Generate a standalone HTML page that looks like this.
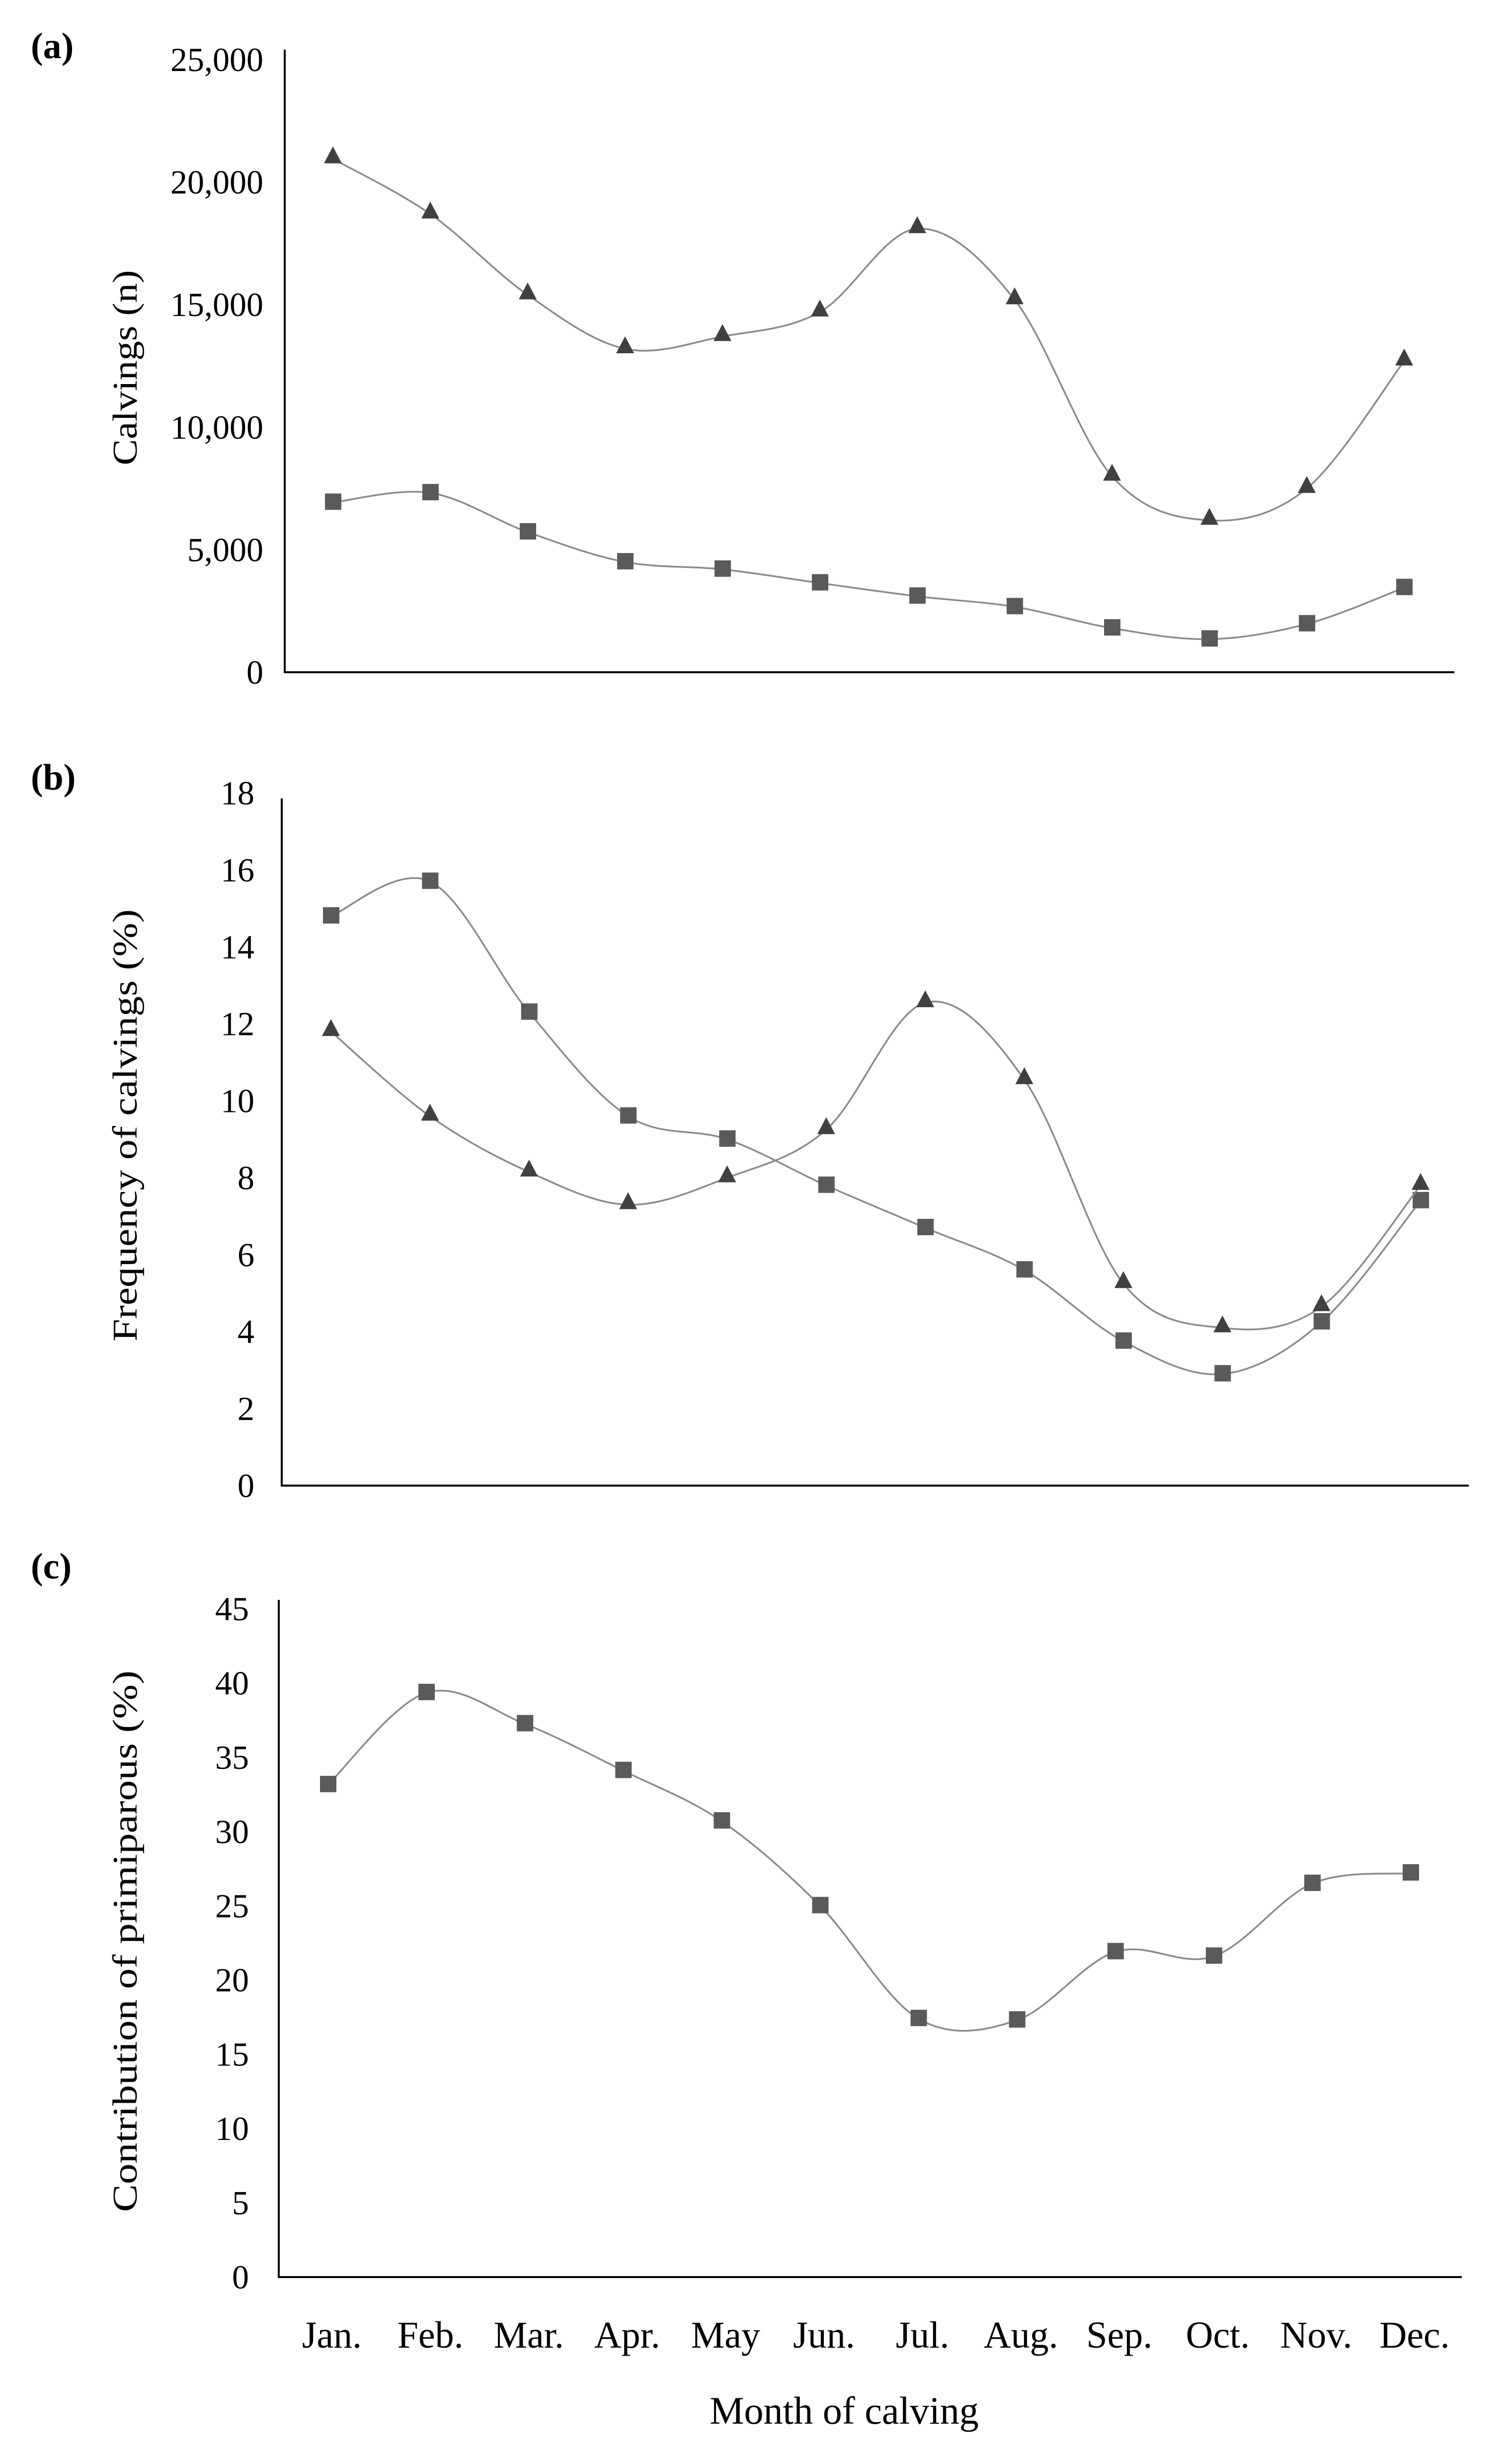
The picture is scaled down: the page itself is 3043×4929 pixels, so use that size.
<!DOCTYPE html>
<html><head><meta charset="utf-8"><style>
html,body{margin:0;padding:0;background:#fff}
svg{display:block}
text{font-family:"Liberation Serif",serif;fill:#000}
</style></head><body>
<svg id="chart" width="3043" height="4929" viewBox="0 0 3043 4929" xmlns="http://www.w3.org/2000/svg"></svg>
<script>
const months = ["Jan.","Feb.","Mar.","Apr.","May","Jun.","Jul.","Aug.","Sep.","Oct.","Nov.","Dec."];
const calvingsTriangle = [20950,18700,15400,13200,13700,14700,18100,15200,8000,6200,7500,12700];
const calvingsSquare = [6930,7320,5720,4500,4200,3640,3100,2670,1800,1350,1970,3450];
const freqSquare = [14.8,15.7,12.3,9.6,9.0,7.8,6.7,5.6,3.75,2.9,4.25,7.4];
const freqTriangle = [11.8,9.6,8.15,7.3,8.0,9.25,12.55,10.55,5.25,4.1,4.65,7.8];
const primiparous = [33.15,39.35,37.25,34.1,30.7,25.0,17.4,17.3,21.9,21.6,26.5,27.2];
const ticksA = [0,5000,10000,15000,20000,25000];
const ticksB = [0,2,4,6,8,10,12,14,16,18];
const ticksC = [0,5,10,15,20,25,30,35,40,45];

const NS = "http://www.w3.org/2000/svg";
const svg = document.getElementById("chart");
function mk(tag, attrs, parent){const e=document.createElementNS(NS,tag);for(const k in attrs)e.setAttribute(k,attrs[k]);(parent||svg).appendChild(e);return e;}
function fmt(v){return v.toLocaleString("en-US");}

function smoothPath(pts){
  let d="M"+pts[0][0]+","+pts[0][1];
  for(let i=0;i<pts.length-1;i++){
    const p0=pts[Math.max(0,i-1)],p1=pts[i],p2=pts[i+1],p3=pts[Math.min(pts.length-1,i+2)];
    const c1=[p1[0]+(p2[0]-p0[0])/6,p1[1]+(p2[1]-p0[1])/6];
    const c2=[p2[0]-(p3[0]-p1[0])/6,p2[1]-(p3[1]-p1[1])/6];
    d+=" C"+c1[0]+","+c1[1]+" "+c2[0]+","+c2[1]+" "+p2[0]+","+p2[1];
  }
  return d;
}

function panel(cfg){
  const g=mk("g",{});
  
  
  const x=i=>cfg.x0+i*(cfg.x1-cfg.x0)/11;
  const y=v=>cfg.yZero-(v/cfg.max)*(cfg.yZero-cfg.yMax);
  const ax=mk("path",{d:`M${cfg.axisX},${cfg.axisTop} L${cfg.axisX},${cfg.yZero} L${cfg.axisRight},${cfg.yZero}`,fill:"none",stroke:"#000","stroke-width":4},g);
  
  
  cfg.ticks.forEach(t=>{
    const tx=mk("text",{x:cfg.labelRight,y:y(t)+23,"text-anchor":"end","font-size":68},g);
    tx.textContent=cfg.comma?fmt(t):String(t);
    
    
  });
  const tt=mk("text",{x:0,y:0,"text-anchor":"middle","font-size":70,textLength:cfg.titleLen,lengthAdjust:"spacingAndGlyphs",transform:`translate(275,${cfg.titleY}) rotate(-90)`},g);
  tt.textContent=cfg.title;
  
  
  const pl=mk("text",{x:62,y:cfg.tagY+24,"font-size":74,"font-weight":"bold"},g);
  pl.textContent=cfg.tag;
  
  
  cfg.series.forEach(s=>{
    const pts=s.data.map((v,i)=>[x(i),y(v)]);
    const ln=mk("path",{d:smoothPath(pts),fill:"none",stroke:"#8a8a8a","stroke-width":3.5},g);
    
    
    pts.forEach(p=>{
      let m;
      if(s.marker==="tri"){
        m=mk("polygon",{points:`${p[0]},${p[1]-25} ${p[0]-18},${p[1]+9} ${p[0]+18},${p[1]+9}`,fill:"#404040"},g);
      }else{
        m=mk("rect",{x:p[0]-16,y:p[1]-18,width:33,height:33,fill:"#5a5a5a"},g);
      }
      
      
    });
  });
  return x;
}

panel({name:"panel-a-calvings",tag:"(a)",tagY:93,axisX:573,axisTop:100,axisRight:2927,yZero:1353,yMax:120,max:25000,x0:670,x1:2826,
  ticks:ticksA,comma:true,labelRight:530,title:"Calvings (n)",titleY:740,titleLen:393,
  series:[{name:"all-cows",data:calvingsTriangle,marker:"tri"},{name:"primiparous",data:calvingsSquare,marker:"sq"}]});
panel({name:"panel-b-frequency",tag:"(b)",tagY:1565,axisX:567,axisTop:1607,axisRight:2956,yZero:2990,yMax:1596,max:18,x0:666,x1:2859,
  ticks:ticksB,comma:false,labelRight:512,title:"Frequency of calvings (%)",titleY:2265,titleLen:870,
  series:[{name:"primiparous-freq",data:freqSquare,marker:"sq"},{name:"multiparous-freq",data:freqTriangle,marker:"tri"}]});
const xc=panel({name:"panel-c-contribution",tag:"(c)",tagY:3153,axisX:561,axisTop:3220,axisRight:2942,yZero:4583,yMax:3238,max:45,x0:660,x1:2839,
  ticks:ticksC,comma:false,labelRight:501,title:"Contribution of primiparous (%)",titleY:3907,titleLen:1090,
  series:[{name:"contribution",data:primiparous,marker:"sq"}]});

months.forEach((m,i)=>{
  const t=mk("text",{x:xc(i)+8,y:4725,"text-anchor":"middle","font-size":76});
  t.textContent=m;
  
  
});
const xt=mk("text",{x:1699,y:4878,"text-anchor":"middle","font-size":78});
xt.textContent="Month of calving";


</script>
</body></html>
